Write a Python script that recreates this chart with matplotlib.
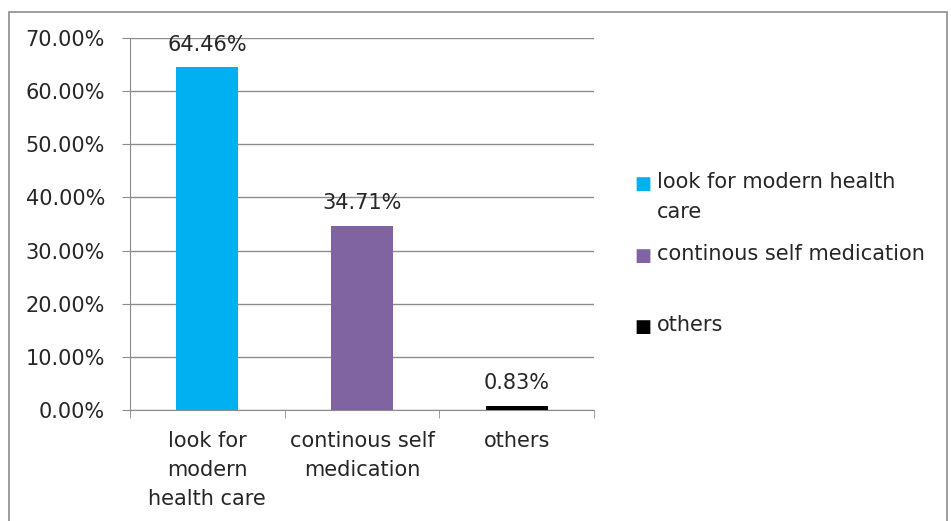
import matplotlib.pyplot as plt
import matplotlib.patches as patches

categories = ['look for\nmodern\nhealth care', 'continous self\nmedication', 'others']
legend_labels = ['look for modern health\ncare', 'continous self medication', 'others']
values = [64.46, 34.71, 0.83]
colors = ['#00B0F0', '#8064A2', '#000000']
yticks = [0, 10, 20, 30, 40, 50, 60, 70]

text_color = '#262626'
grid_color = '#8c8c8c'
fs = 15

fig = plt.figure(figsize=(9.51, 5.21), dpi=100)
fig.patches.append(patches.Rectangle((9 / 951, -0.1), 938 / 951, 1.1 - 12 / 521,
                                     transform=fig.transFigure, fill=False,
                                     edgecolor='#8c8c8c', linewidth=1.2))

ax = fig.add_axes([130 / 951, 1 - 410 / 521, 464 / 951, 372 / 521])
x = range(len(values))
ax.bar(x, values, width=0.4, color=colors, zorder=3)

for xi, v in zip(x, values):
    ax.annotate(f'{v:.2f}%', (xi, v), xytext=(0, 9), textcoords='offset points',
                ha='center', va='bottom', fontsize=fs, color=text_color)

ax.set_xlim(-0.5, len(values) - 0.5)
ax.set_ylim(0, 70)
ax.set_yticks(yticks)
ax.set_yticklabels([f'{t:.2f}%' for t in yticks], fontsize=fs, color=text_color)
ax.yaxis.grid(True, color=grid_color, linewidth=1, zorder=0)
ax.set_axisbelow(True)

ax.set_xticks(list(x))
ax.set_xticklabels(categories, fontsize=fs, color=text_color, linespacing=1.58)
ax.tick_params(axis='x', length=0, pad=15)
ax.set_xticks([i - 0.5 for i in range(len(values) + 1)], minor=True)
ax.tick_params(axis='x', which='minor', length=6, color=grid_color, direction='out')
ax.tick_params(axis='y', length=6, color=grid_color, pad=12)

for side in ['top', 'right']:
    ax.spines[side].set_visible(False)
for side in ['left', 'bottom']:
    ax.spines[side].set_color(grid_color)

# legend built as text entries to match the spacing of the original
legend_y = [184, 256, 327]
for lab, col, ly in zip(legend_labels, colors, legend_y):
    fig.text(634 / 951, 1 - ly / 521, '\u25A0', color=col, fontsize=13,
             va='center', ha='left')
    fig.text(657 / 951, 1 - (ly - 12) / 521, lab, color=text_color, fontsize=fs,
             va='top', ha='left', linespacing=1.6)

fig.savefig('out.png', dpi=100)
